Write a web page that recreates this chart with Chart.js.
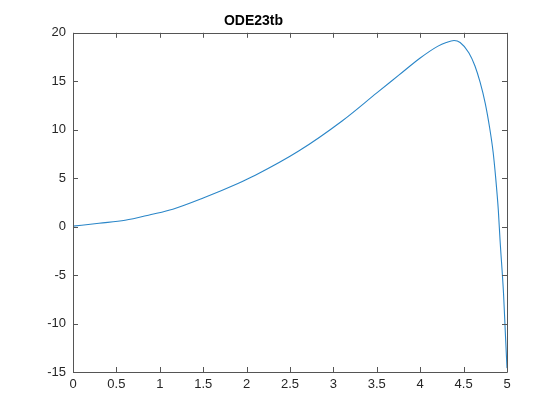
<!DOCTYPE html>
<html>
<head>
<meta charset="utf-8">
<script src="https://cdn.jsdelivr.net/npm/chart.js@4"></script>
<style>
  html, body { margin: 0; padding: 0; background: #ffffff; }
  #wrap { width: 560px; height: 420px; }
</style>
</head>
<body>
<div id="wrap"><canvas id="c" width="560" height="420"></canvas></div>
<script>
const chartTitle = "ODE23tb";
const tValues = [0, 0.1, 0.3, 0.6, 0.9, 1.15, 1.5, 1.9, 2.1, 2.6, 3.1, 3.5, 3.75, 4.0, 4.2, 4.3, 4.39, 4.46, 4.56, 4.63, 4.69, 4.75, 4.80, 4.84, 4.87, 4.90, 4.92, 4.96, 4.98, 5.0];
const yValues = [0.05, 0.15, 0.35, 0.65, 1.25, 1.8, 2.95, 4.45, 5.3, 7.8, 10.9, 13.8, 15.6, 17.4, 18.6, 19.0, 19.2, 19.0, 17.95, 16.6, 14.9, 12.7, 10.2, 7.7, 5.0, 1.7, -1.4, -6.9, -10.8, -14.6];
const xTickValues = [0, 0.5, 1, 1.5, 2, 2.5, 3, 3.5, 4, 4.5, 5];
const xTickLabels = ["0", "0.5", "1", "1.5", "2", "2.5", "3", "3.5", "4", "4.5", "5"];
const yTickValues = [-15, -10, -5, 0, 5, 10, 15, 20];
const yTickLabels = ["-15", "-10", "-5", "0", "5", "10", "15", "20"];

const points = tValues.map((t, i) => ({ x: t, y: yValues[i] }));

const boxPlugin = {
  id: 'matlabBox',
  afterDraw(chart) {
    const { ctx, chartArea: a, scales } = chart;
    ctx.save();
    ctx.strokeStyle = '#555555';
    ctx.lineWidth = 1;
    ctx.beginPath();
    ctx.rect(Math.round(a.left) + 0.5, Math.round(a.top) + 0.5, Math.round(a.right - a.left), Math.round(a.bottom - a.top));
    ctx.stroke();
    const tl = 5;
    ctx.beginPath();
    xTickValues.forEach(v => {
      const px = Math.round(scales.x.getPixelForValue(v)) + 0.5;
      ctx.moveTo(px, a.bottom); ctx.lineTo(px, a.bottom - tl);
      ctx.moveTo(px, a.top); ctx.lineTo(px, a.top + tl);
    });
    yTickValues.forEach(v => {
      const py = Math.round(scales.y.getPixelForValue(v)) + 0.5;
      ctx.moveTo(a.left, py); ctx.lineTo(a.left + tl, py);
      ctx.moveTo(a.right, py); ctx.lineTo(a.right - tl, py);
    });
    ctx.stroke();
    ctx.restore();
  }
};

new Chart(document.getElementById('c'), {
  type: 'line',
  data: {
    datasets: [{
      data: points,
      borderColor: '#2a86c8',
      borderWidth: 1.1,
      pointRadius: 0,
      cubicInterpolationMode: 'monotone',
      fill: false
    }]
  },
  options: {
    responsive: false,
    animation: false,
    devicePixelRatio: 1,
    layout: { padding: { left: 0, right: 53, top: 0, bottom: 0 } },
    plugins: {
      legend: { display: false },
      tooltip: { enabled: false },
      title: {
        display: true,
        text: chartTitle,
        color: '#000000',
        font: { family: 'Liberation Sans, Arial, sans-serif', size: 14, weight: 'bold' },
        padding: { top: 13, bottom: 3 }
      }
    },
    scales: {
      x: {
        type: 'linear',
        min: 0, max: 5,
        afterBuildTicks(scale) { scale.ticks = xTickValues.map(v => ({ value: v })); },
        afterFit(scale) { scale.height = 48; },
        grid: { display: false, drawTicks: false },
        border: { display: false },
        ticks: {
          padding: 5,
          maxRotation: 0,
          autoSkip: false,
          color: '#262626',
          font: { family: 'Liberation Sans, Arial, sans-serif', size: 13 },
          callback: (v) => { const i = xTickValues.indexOf(v); return i >= 0 ? xTickLabels[i] : ''; }
        }
      },
      y: {
        type: 'linear',
        min: -15, max: 20,
        afterBuildTicks(scale) { scale.ticks = yTickValues.map(v => ({ value: v })); },
        afterFit(scale) { scale.width = 73; },
        grid: { display: false, drawTicks: false },
        border: { display: false },
        ticks: {
          padding: 7,
          autoSkip: false,
          color: '#262626',
          font: { family: 'Liberation Sans, Arial, sans-serif', size: 13 },
          callback: (v) => { const i = yTickValues.indexOf(v); return i >= 0 ? yTickLabels[i] : ''; }
        }
      }
    }
  },
  plugins: [boxPlugin]
});
</script>
</body>
</html>
